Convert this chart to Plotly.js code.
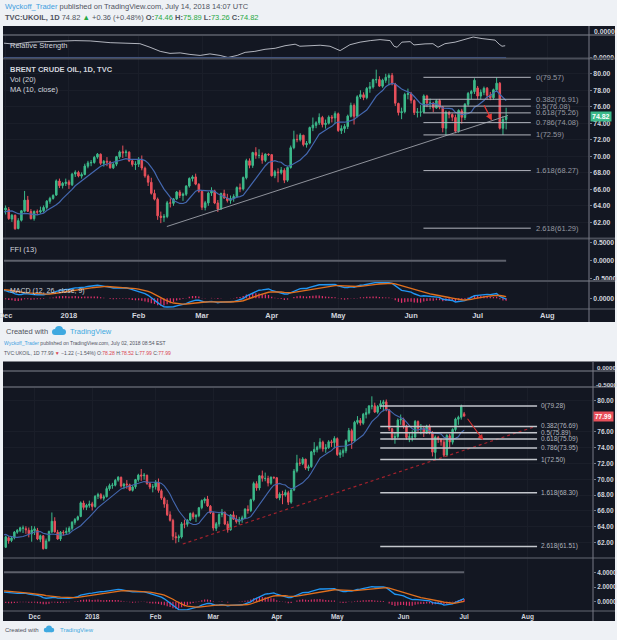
<!DOCTYPE html>
<html>
<head>
<meta charset="utf-8">
<script src="https://cdn.plot.ly/plotly-3.0.1.min.js"></script>
<style>
  html, body { margin: 0; padding: 0; background: #eef1f5; }
  #chart { width: 617px; height: 640px; }
</style>
</head>
<body>
<div id="chart"></div>
<script>
// Daily bars of TVC:UKOIL, 2017-11-16 .. 2018-07-13
const firstDay = "2017-11-16";
const holidays = ["2017-12-25", "2018-01-01"];

// only used to warm up the MA / MACD before the first visible bar (Oct 2 .. Nov 15)
const warmupCloses = [56.12, 55.94, 55.80, 57.00, 55.62, 55.79, 56.61, 56.94, 56.25, 57.17,
  57.82, 58.01, 58.15, 57.24, 57.75, 57.37, 58.33, 58.44, 59.30, 60.44, 60.90, 61.37,
  60.49, 60.62, 62.07, 64.27, 63.69, 63.49, 63.93, 63.52, 63.16, 62.21, 61.87];

const opens = [61.90, 61.40, 62.60, 62.25, 62.60, 63.30, 63.50, 63.80, 63.75, 63.55,
  63.10, 63.50, 63.55, 62.40, 62.85, 61.25, 62.25, 63.35, 64.70, 63.30,
  62.45, 63.30, 63.25, 63.40, 63.80, 64.55, 64.90, 65.30, 67.00, 66.45,
  66.70, 66.90, 66.55, 67.85, 68.05, 67.60, 67.80, 68.80, 69.20, 69.25,
  69.90, 70.25, 69.15, 69.40, 69.30, 68.60, 69.05, 69.95, 70.55, 70.45,
  70.50, 69.45, 69.00, 69.05, 69.60, 68.55, 67.60, 66.85, 65.50, 64.80,
  62.75, 62.60, 62.70, 64.35, 64.30, 64.85, 65.65, 65.25, 65.40, 66.40,
  67.30, 67.50, 66.60, 65.75, 63.80, 64.35, 65.55, 65.80, 64.35, 63.60,
  65.50, 64.95, 64.65, 64.90, 65.10, 66.20, 66.05, 67.40, 69.45, 68.90,
  70.45, 70.10, 70.10, 69.50, 70.25, 70.20, 67.65, 68.10, 68.00, 68.30,
  67.10, 68.65, 71.05, 72.05, 72.00, 72.55, 71.40, 71.60, 73.45, 73.75,
  74.05, 74.70, 73.85, 74.00, 74.75, 74.65, 75.15, 73.10, 73.35, 73.60,
  74.85, 76.15, 74.85, 77.20, 77.45, 77.10, 78.20, 78.40, 79.25, 79.30,
  78.50, 79.20, 79.55, 79.80, 78.75, 76.40, 75.30, 75.40, 77.50, 77.55,
  76.75, 75.30, 75.35, 75.35, 77.30, 76.45, 76.45, 75.85, 76.75, 75.95,
  73.40, 75.30, 75.05, 74.70, 73.05, 75.50, 74.70, 76.30, 77.60, 77.85,
  78.28, 77.30, 77.75, 78.25, 77.40, 77.10, 78.05, 78.85, 73.40, 74.46];

const highs = [62.05, 62.85, 62.80, 62.75, 63.45, 63.70, 64.00, 64.15, 64.05, 63.90,
  64.10, 64.05, 63.85, 63.00, 62.95, 62.50, 63.50, 65.80, 65.20, 63.60,
  63.45, 63.55, 63.90, 64.05, 64.70, 65.10, 65.40, 67.20, 67.30, 66.90,
  67.30, 67.15, 68.00, 68.30, 68.25, 68.05, 69.10, 69.45, 69.55, 70.05,
  70.40, 70.35, 69.55, 69.90, 69.45, 69.25, 70.05, 70.70, 71.30, 70.80,
  70.60, 69.60, 69.40, 69.90, 70.10, 68.75, 67.80, 67.40, 65.95, 65.00,
  63.30, 63.00, 64.60, 64.90, 64.95, 65.80, 65.90, 65.60, 66.50, 67.45,
  67.70, 67.90, 66.75, 65.90, 64.60, 65.70, 66.25, 65.95, 64.70, 65.60,
  65.95, 65.45, 65.25, 65.40, 66.35, 66.70, 67.55, 69.70, 69.75, 70.55,
  71.10, 70.85, 70.45, 70.35, 70.35, 70.25, 68.35, 68.55, 68.70, 68.55,
  68.75, 71.30, 73.10, 72.65, 72.80, 72.60, 71.85, 73.60, 74.70, 74.25,
  75.20, 74.90, 74.45, 74.95, 75.00, 75.45, 75.30, 73.75, 73.90, 75.05,
  76.50, 76.40, 77.40, 78.00, 77.75, 78.40, 79.00, 79.40, 80.50, 79.70,
  79.40, 80.00, 80.05, 80.10, 78.90, 76.50, 75.90, 77.70, 78.20, 77.80,
  76.90, 75.85, 76.20, 77.50, 77.45, 77.00, 76.60, 76.90, 76.95, 76.10,
  75.55, 75.50, 75.20, 75.05, 75.70, 75.75, 76.45, 77.80, 78.05, 79.45,
  78.52, 78.10, 78.45, 78.40, 77.80, 78.20, 79.57, 79.00, 74.90, 75.89];

const lows = [61.11, 61.30, 61.85, 62.05, 62.40, 63.10, 63.30, 63.20, 63.10, 62.65,
  62.10, 62.95, 62.30, 62.05, 61.10, 61.15, 62.10, 63.20, 63.25, 62.35,
  62.20, 62.90, 63.05, 63.20, 63.55, 64.25, 64.75, 65.20, 66.15, 66.10,
  66.40, 66.05, 66.40, 67.50, 67.45, 67.30, 67.70, 68.55, 68.80, 69.10,
  69.70, 68.95, 68.75, 68.80, 68.50, 68.45, 68.80, 69.70, 69.80, 69.95,
  69.30, 68.75, 68.35, 68.70, 68.30, 67.40, 66.40, 65.35, 64.65, 62.30,
  61.90, 62.05, 62.50, 63.80, 64.00, 64.70, 64.95, 64.60, 65.20, 66.20,
  66.95, 66.50, 65.60, 63.50, 63.45, 64.00, 65.20, 64.20, 63.25, 63.50,
  64.85, 64.40, 64.25, 64.50, 64.95, 65.65, 65.85, 67.20, 68.55, 68.60,
  69.70, 69.75, 69.10, 69.30, 70.05, 67.55, 67.35, 66.85, 67.80, 66.75,
  66.90, 68.50, 70.85, 71.70, 71.80, 71.20, 71.05, 71.45, 73.05, 73.40,
  73.80, 73.50, 73.35, 73.85, 74.10, 73.90, 72.95, 72.70, 72.85, 73.30,
  74.70, 73.85, 74.70, 76.95, 76.80, 76.90, 77.70, 78.20, 78.85, 78.40,
  78.30, 78.90, 78.60, 78.60, 76.10, 74.95, 74.50, 75.20, 76.90, 76.40,
  75.00, 74.70, 74.80, 75.20, 75.95, 75.70, 75.35, 75.75, 75.70, 72.90,
  72.50, 74.60, 74.25, 72.80, 72.85, 73.95, 74.40, 76.05, 76.90, 77.55,
  76.90, 76.90, 77.40, 76.85, 76.80, 76.85, 77.90, 73.25, 72.59, 73.26];

const closes = [61.36, 62.72, 62.22, 62.57, 63.32, 63.55, 63.86, 63.84, 63.61, 63.11,
  63.57, 63.73, 62.45, 62.86, 61.22, 62.20, 63.40, 64.69, 63.34, 62.44,
  63.31, 63.23, 63.42, 63.80, 64.56, 64.90, 65.25, 67.02, 66.44, 66.72,
  66.87, 66.57, 67.84, 68.07, 67.62, 67.78, 68.82, 69.20, 69.26, 69.87,
  70.26, 69.15, 69.38, 69.31, 68.61, 69.03, 69.96, 70.53, 70.42, 70.52,
  69.46, 69.02, 69.05, 69.65, 68.58, 67.62, 66.86, 65.51, 64.81, 62.79,
  62.59, 62.72, 64.36, 64.33, 64.84, 65.67, 65.25, 65.42, 66.39, 67.31,
  67.50, 66.63, 65.78, 63.83, 64.37, 65.54, 65.79, 64.34, 63.61, 65.49,
  64.95, 64.64, 64.89, 65.12, 66.21, 66.05, 67.42, 69.47, 68.91, 70.45,
  70.12, 70.11, 69.53, 70.27, 70.20, 67.64, 68.12, 68.02, 68.33, 67.11,
  68.65, 71.04, 72.06, 72.02, 72.58, 71.42, 71.58, 73.48, 73.78, 74.06,
  74.71, 73.86, 74.00, 74.74, 74.64, 75.17, 73.13, 73.36, 73.62, 74.87,
  76.17, 74.85, 77.21, 77.47, 77.12, 78.23, 78.43, 79.28, 79.30, 78.51,
  79.22, 79.57, 79.80, 78.79, 76.44, 75.30, 75.39, 77.50, 77.59, 76.79,
  75.29, 75.38, 75.36, 77.32, 76.46, 76.46, 75.88, 76.74, 75.94, 73.44,
  75.34, 75.08, 74.74, 73.05, 75.55, 74.73, 76.31, 77.62, 77.85, 79.21,
  77.30, 77.76, 78.24, 77.39, 77.11, 78.07, 78.86, 73.40, 74.46, 74.82];

// the lower screenshot was taken on Jul 02, its last bar was still open
const snapshotBars = 160;
const snapshotLast = {open: 78.28, high: 78.52, low: 77.99, close: 77.99};

// Relative Strength line (bar index, value)
const rsIdx = [10.5, 14, 18.7, 23.5, 28.2, 32.9, 37.7, 40.8, 44, 48.7, 53.4, 56.6, 59.8, 62.9,
  66.1, 69.2, 72.4, 75.5, 78.7, 81.2, 84.1, 86.6, 89.7, 92.9, 96.1, 99.2, 102.4, 103.9,
  107.1, 110.3, 113.4, 116.6, 119.7, 122.9, 126.1, 129.2, 132.4, 133.6, 134.6, 136.1,
  138.7, 139.9, 143.4, 145.9, 147.5, 149.7, 152.9, 155.1, 158.6, 161.4, 163.9, 165.5,
  166.8, 167.7, 168.7];
const rsVals = [0.0140, 0.0130, 0.0150, 0.0155, 0.0160, 0.0165, 0.0162, 0.0150, 0.0145, 0.0140,
  0.0135, 0.0100, 0.0060, 0.0040, 0.0045, 0.0030, 0.0020, 0.0035, 0.0020, 0.0000, 0.0020,
  0.0050, 0.0060, 0.0080, 0.0090, 0.0115, 0.0130, 0.0110, 0.0115, 0.0120, 0.0110, 0.0067,
  0.0125, 0.0150, 0.0165, 0.0175, 0.0165, 0.0110, 0.0100, 0.0150, 0.0155, 0.0123, 0.0133,
  0.0135, 0.0100, 0.0135, 0.0150, 0.0170, 0.0200, 0.0185, 0.0180, 0.0170, 0.0130, 0.0110,
  0.0115];

// Fibonacci retracements drawn on each screenshot
const fibRatios = ["0", "0.382", "0.5", "0.618", "0.786", "1", "1.618", "2.618"];
const topFibLevels = [79.57, 76.91, 76.08, 75.26, 74.08, 72.59, 68.27, 61.29];
const bottomFibLevels = [79.28, 76.69, 75.89, 75.09, 73.95, 72.50, 68.30, 61.51];

// hand drawn trend lines and arrows: [bar index, price]
const topTrend = [[61.9, 61.49], [169.6, 74.95]];
const bottomTrend = [[62.4, 61.81], [184.5, 76.66]];
const topArrow = [[161.8, 76.36], [164.5, 74.34]];
const bottomArrow = [[160.8, 77.85], [166.6, 74.97]];

const monthLabels = {12: "Dec", 1: "2018", 2: "Feb", 3: "Mar", 4: "Apr", 5: "May", 6: "Jun", 7: "Jul", 8: "Aug"};
const priceTicks = [62, 64, 66, 68, 70, 72, 74, 76, 78, 80];
// 78.00 sits under the last-price box on the lower screenshot
const bottomPriceTicks = [62, 64, 66, 68, 70, 72, 74, 76, 80];

// ---- helpers ----
const W = 617, H = 640;
const px = x => x / W;
const py = y => 1 - y / H;
const dom = (top, bottom) => [py(bottom), py(top)];
const FONT = "Liberation Sans, Arial, sans-serif";
const UP = "#3cb98a", DOWN = "#e8505b";
const BG = "#131722", SEP = "#4a4e59", AXIS = "#787b86", LABEL = "#d1d4dc", GRID = "#1a1e29";

function tradingDays(start, count) {
    const out = [];
    const d = new Date(start + "T12:00:00Z");
    while (out.length < count) {
        const day = d.getUTCDay();
        const iso = d.toISOString().slice(0, 10);
        if (day !== 0 && day !== 6 && !holidays.includes(iso)) out.push(iso);
        d.setUTCDate(d.getUTCDate() + 1);
    }
    return out;
}

function sma(values, n) {
    return values.map((_, i) => i < n - 1 ? null :
        values.slice(i - n + 1, i + 1).reduce((a, b) => a + b, 0) / n);
}

function ema(values, n) {
    const k = 2 / (n + 1);
    const out = [];
    values.forEach((v, i) => out.push(i === 0 ? v : v * k + out[i - 1] * (1 - k)));
    return out;
}

function macd(values) {
    const fast = ema(values, 12), slow = ema(values, 26);
    const line = fast.map((v, i) => v - slow[i]);
    const signal = ema(line, 9);
    return {line, signal, hist: line.map((v, i) => v - signal[i])};
}

// month ticks from the trading calendar (extended past the data for Aug)
const calendar = tradingDays(firstDay, 200);
const tickIdx = [], tickText = [];
calendar.forEach((iso, i) => {
    const m = +iso.slice(5, 7);
    if (i > 0 && m !== +calendar[i - 1].slice(5, 7) && monthLabels[m]) {
        tickIdx.push(i);
        tickText.push(monthLabels[m]);
    }
});

// ---- series ----
const idx = closes.map((_, i) => i);
const warm = warmupCloses.length;

const topAll = warmupCloses.concat(closes);
const topMA = sma(topAll, 10).slice(warm);
const topMacd = macd(topAll);
const cut = arr => arr.slice(warm);

const bOpen = opens.slice(0, snapshotBars).concat([snapshotLast.open]);
const bHigh = highs.slice(0, snapshotBars).concat([snapshotLast.high]);
const bLow = lows.slice(0, snapshotBars).concat([snapshotLast.low]);
const bClose = closes.slice(0, snapshotBars).concat([snapshotLast.close]);
const bIdx = bClose.map((_, i) => i);
const botAll = warmupCloses.concat(bClose);
const botMA = sma(botAll, 10).slice(warm);
const botMacd = macd(botAll);

function candles(xs, o, h, l, c, xa, ya) {
    return {
        type: "candlestick", x: xs, open: o, high: h, low: l, close: c, xaxis: xa, yaxis: ya,
        increasing: {line: {color: UP, width: 1}, fillcolor: UP},
        decreasing: {line: {color: DOWN, width: 1}, fillcolor: DOWN},
        whiskerwidth: 0, hoverinfo: "skip"
    };
}

function line(xs, ys, xa, ya, color, width, dash) {
    return {type: "scatter", mode: "lines", x: xs, y: ys, xaxis: xa, yaxis: ya,
        line: {color, width, dash: dash || "solid"}, hoverinfo: "skip"};
}

function fibTrace(levels, x0, x1, xa, ya, color, width) {
    const xs = [], ys = [];
    levels.forEach(v => { xs.push(x0, x1, null); ys.push(v, v, null); });
    return line(xs, ys, xa, ya, color, width);
}

const traces = [
    // upper screenshot
    line(rsIdx, rsVals, "x", "y", "#b2b5be", 1),
    line(idx, idx.map(() => 0), "x", "y", "#3a5aa0", 1),
    candles(idx, opens, highs, lows, closes, "x", "y2"),
    line(idx, topMA, "x", "y2", "#4468b0", 1.2),
    line(topTrend.map(p => p[0]), topTrend.map(p => p[1]), "x", "y2", "#8f929b", 1),
    fibTrace(topFibLevels, 142.9, 176.8, "x", "y2", "#b2b5be", 1),
    line(idx, idx.map(() => 0), "x", "y3", "#5d606b", 2),
    {type: "bar", x: idx, y: cut(topMacd.hist), xaxis: "x", yaxis: "y4", width: 0.4,
        marker: {color: "#e0306a"}, hoverinfo: "skip"},
    line(idx, cut(topMacd.line), "x", "y4", "#2196f3", 1.4),
    line(idx, cut(topMacd.signal), "x", "y4", "#e0701e", 1.4),
    // lower screenshot
    candles(bIdx, bOpen, bHigh, bLow, bClose, "x2", "y5"),
    line(bIdx, botMA, "x2", "y5", "#4468b0", 1.1),
    line(bottomTrend.map(p => p[0]), bottomTrend.map(p => p[1]), "x2", "y5", "#a3222c", 1.2, "dot"),
    fibTrace(bottomFibLevels, 130.9, 185.3, "x2", "y5", "#c3c6cc", 1.5),
    {type: "bar", x: bIdx, y: cut(botMacd.hist), xaxis: "x2", yaxis: "y6", width: 0.4,
        marker: {color: "#e0306a"}, hoverinfo: "skip"},
    line(bIdx, cut(botMacd.line), "x2", "y6", "#2196f3", 1.3),
    line(bIdx, cut(botMacd.signal), "x2", "y6", "#e0701e", 1.3),
    line(bIdx, bIdx.map(() => 0), "x2", "y7", "#5d606b", 2)
];

// ---- layout ----
function yAxis(domain, range, tickvals, size, anchor, grid) {
    const digits = grid ? 2 : 4;
    return {
        domain, range, anchor, side: "right",
        tickvals, ticktext: tickvals.map(v => v.toFixed(digits)),
        ticks: "outside", ticklen: 2, tickcolor: AXIS,
        tickfont: {family: FONT, size, color: LABEL, weight: "bold"},
        showline: false, zeroline: false, showgrid: !!grid, gridcolor: GRID, fixedrange: true
    };
}

function xAxis(domain, range, anchor, size) {
    return {
        domain, range, anchor, tickvals: tickIdx, ticktext: tickText, ticks: "",
        tickfont: {family: FONT, size, color: LABEL, weight: "bold"},
        showgrid: true, gridcolor: GRID, zeroline: false, showline: false,
        rangeslider: {visible: false}, ticklabeloverflow: "allow", fixedrange: true
    };
}

function hLine(y, x0, x1, color, width) {
    return {type: "line", xref: "paper", yref: "paper", x0: px(x0), x1: px(x1), y0: py(y), y1: py(y),
        line: {color, width}, layer: "above"};
}

function vLine(x, y0, y1) {
    return {type: "line", xref: "paper", yref: "paper", x0: px(x), x1: px(x), y0: py(y0), y1: py(y1),
        line: {color: AXIS, width: 1}, layer: "above"};
}

function rect(x0, y0, x1, y1, color) {
    return {type: "rect", xref: "paper", yref: "paper", x0: px(x0), x1: px(x1), y0: py(y1), y1: py(y0),
        line: {width: 0}, fillcolor: color, layer: "below"};
}

function cloud(x, y, s) {
    const c = (cx, cy, r) => ({type: "circle", xref: "paper", yref: "paper",
        x0: px(x + (cx - r) * s), x1: px(x + (cx + r) * s), y0: py(y + (cy + r) * s), y1: py(y + (cy - r) * s),
        line: {width: 0}, fillcolor: "#3fa9e0", layer: "above"});
    return [c(4, 6, 3), c(8, 4, 4), c(12, 6, 3),
        {type: "rect", xref: "paper", yref: "paper", x0: px(x + 4 * s), x1: px(x + 12 * s),
            y0: py(y + 9 * s), y1: py(y + 6 * s), line: {width: 0}, fillcolor: "#3fa9e0", layer: "above"}];
}

function txt(x, y, text, size, color, extra) {
    return Object.assign({xref: "paper", yref: "paper", x: px(x), y: py(y), xanchor: "left", yanchor: "middle",
        text, showarrow: false, font: {family: FONT, size, color}}, extra || {});
}

const green = s => `<span style="color:#27a844">${s}</span>`;
const red = s => `<span style="color:#d9434f">${s}</span>`;
const topLast = closes[closes.length - 1];
const topPrev = closes[closes.length - 2];
const botPrev = closes[snapshotBars - 1];
const chg = (c, p) => `${c - p >= 0 ? "+" : "−"}${Math.abs(c - p).toFixed(2)} (${c - p >= 0 ? "+" : "−"}${(Math.abs(c - p) / p * 100).toFixed(2)}%)`;

const annotations = [
    txt(3, 6, '<span style="color:#3ea0df">Wyckoff_Trader</span> published on TradingView.com, July 14, 2018 14:07 UTC', 7.5, "#50535e"),
    txt(3, 17, `<b>TVC:UKOIL, 1D</b> ${topLast.toFixed(2)} ${green("▲")} ${chg(topLast, topPrev)} <b>O:</b>${green(opens[169].toFixed(2))} <b>H:</b>${green(highs[169].toFixed(2))} <b>L:</b>${green(lows[169].toFixed(2))} <b>C:</b>${green(topLast.toFixed(2))}`, 7.5, "#50535e"),
    txt(8, 45.5, "Relative Strength", 7.5, LABEL),
    txt(8, 69.5, "<b>BRENT CRUDE OIL, 1D, TVC</b>", 7.5, LABEL),
    txt(8, 79.5, "Vol (20)", 7.5, LABEL),
    txt(8, 89.5, "MA (10, close)", 7.5, LABEL),
    txt(8, 249, "FFI (13)", 7.5, LABEL),
    txt(8, 291, "MACD (12, 26, close, 9)", 7, LABEL),
    txt(592, 31.3, "<b>0.0000</b>", 6.8, LABEL),
    {xref: "paper", x: px(590), xanchor: "left", yref: "y2", y: topLast, text: "<b>" + topLast.toFixed(2) + "</b>",
        showarrow: false, bgcolor: UP, borderpad: 1, font: {family: FONT, size: 7, color: "#ffffff"}},
    txt(4, 331, "Created with", 7.5, "#50535e"),
    txt(68, 331, "TradingView", 7.5, "#3fa9e0"),

    txt(2, 343, '<span style="color:#3ea0df">Wyckoff_Trader</span> published on TradingView.com, July 02, 2018 08:54 EST', 5, "#50535e"),
    txt(2, 353, `TVC:UKOIL, 1D ${snapshotLast.close.toFixed(2)} ${red("▼")} ${chg(snapshotLast.close, botPrev)} O:${red(snapshotLast.open.toFixed(2))} H:${red(snapshotLast.high.toFixed(2))} L:${red(snapshotLast.low.toFixed(2))} C:${red(snapshotLast.close.toFixed(2))}`, 5, "#50535e"),
    txt(595, 367.7, "<b>0.0000</b>", 6.2, LABEL),
    txt(594, 384.5, "<b>-0.5000</b>", 6.2, LABEL),
    {xref: "paper", x: px(593), xanchor: "left", yref: "y5", y: snapshotLast.close, text: "<b>" + snapshotLast.close.toFixed(2) + "</b>",
        showarrow: false, bgcolor: DOWN, borderpad: 1, font: {family: FONT, size: 6.5, color: "#ffffff"}},
    txt(3, 630, "Created with", 6, "#50535e"),
    txt(58, 630, "TradingView", 6, "#3fa9e0"),

    {xref: "x", yref: "y2", x: topArrow[1][0], y: topArrow[1][1], axref: "x", ayref: "y2",
        ax: topArrow[0][0], ay: topArrow[0][1], text: "", showarrow: true, arrowhead: 2,
        arrowsize: 1, arrowwidth: 1.3, arrowcolor: "#e53935"},
    {xref: "x2", yref: "y5", x: bottomArrow[1][0], y: bottomArrow[1][1], axref: "x2", ayref: "y5",
        ax: bottomArrow[0][0], ay: bottomArrow[0][1], text: "", showarrow: true, arrowhead: 2,
        arrowsize: 1, arrowwidth: 1.1, arrowcolor: "#d32f2f"}
];

fibRatios.forEach((r, i) => {
    annotations.push({xref: "x", yref: "y2", x: 177.9, y: topFibLevels[i], xanchor: "left", yanchor: "middle",
        text: `${r}(${topFibLevels[i].toFixed(2)})`, showarrow: false,
        font: {family: FONT, size: 7.5, color: "#9598a1"}});
    annotations.push({xref: "x2", yref: "y5", x: 186.1, y: bottomFibLevels[i], xanchor: "left", yanchor: "middle",
        text: `${r}(${bottomFibLevels[i].toFixed(2)})`, showarrow: false,
        font: {family: FONT, size: 6.5, color: "#b2b5be"}});
});

const shapes = [
    rect(3, 26, 615, 322, BG),
    rect(3, 361.5, 615, 621, BG),
    hLine(35, 3, 615, SEP, 2), hLine(58.5, 3, 615, SEP, 2), hLine(238.5, 3, 615, SEP, 2),
    hLine(281, 3, 615, SEP, 2), hLine(309, 3, 615, SEP, 1.5),
    vLine(589, 26, 322),
    hLine(371, 3, 615, SEP, 2), hLine(387, 3, 615, SEP, 2), hLine(558, 3, 615, SEP, 1.5),
    hLine(611, 3, 615, SEP, 1.5),
    vLine(593, 361.5, 621)
].concat(cloud(51, 326, 1), cloud(43, 625.5, 0.75));

const layout = {
    width: W, height: H, margin: {l: 0, r: 0, t: 0, b: 0},
    paper_bgcolor: "#eef1f5", plot_bgcolor: "rgba(0,0,0,0)",
    showlegend: false, hovermode: false, dragmode: false,
    xaxis: xAxis([px(4), px(589)], [10.5, 195.16], "y4", 7.5),
    yaxis: yAxis(dom(35, 58.5), [-0.001, 0.022], [0], 6.8, "x"),
    yaxis2: yAxis(dom(58.5, 238.5), [60.04, 81.85], priceTicks, 6.8, "x", true),
    yaxis3: yAxis(dom(238.5, 281), [-0.563, 0.617], [-0.5, 0, 0.5], 6.8, "x"),
    yaxis4: yAxis(dom(281, 309), [-1.37, 2.22], [0], 6.8, "x"),
    xaxis2: xAxis([px(4), px(593)], [0.4, 204.7], "y6", 6.5),
    yaxis5: yAxis(dom(387, 558), [60.04, 81.68], bottomPriceTicks, 6.5, "x2", true),
    yaxis6: yAxis(dom(558, 611), [-1.265, 5.946], [0, 2, 4], 6.3, "x2"),
    yaxis7: {domain: dom(558, 611), range: [-0.73, 0.27], overlaying: "y6", anchor: "x2",
        visible: false, fixedrange: true},
    shapes, annotations
};

layout.yaxis.ticktext = ["0.0000"];
layout.yaxis3.ticktext = ["-0.5000", "0.0000", "0.5000"];

Plotly.newPlot("chart", traces, layout, {staticPlot: true, displayModeBar: false});
</script>
</body>
</html>
